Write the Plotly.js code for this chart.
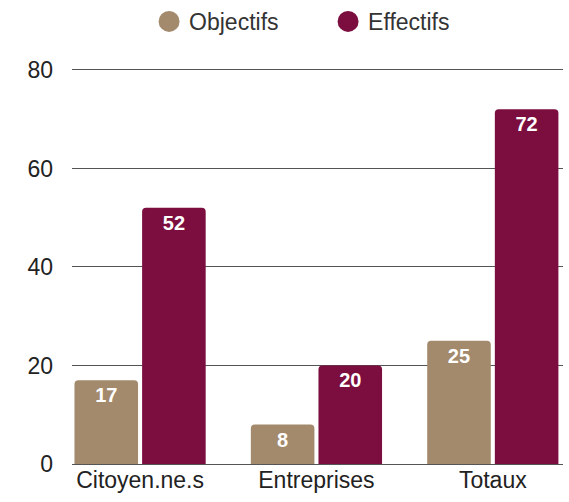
<!DOCTYPE html>
<html><head><meta charset="utf-8">
<script src="https://cdn.plot.ly/plotly-3.0.1.min.js"></script>
<style>body{margin:0;background:#fff}#chart{width:569px;height:502px}</style>
</head><body><div id="chart"></div>
<script>
const categories = ["Citoyen.ne.s", "Entreprises", "Totaux"];
const objectifs = [17, 8, 25];
const effectifs = [52, 20, 72];
const seriesNames = ["Objectifs", "Effectifs"];
const colors = ["#a38a6d", "#7b0e3e"];
const yTicks = [0, 20, 40, 60, 80];

const font = "Liberation Sans, Arial, Helvetica, sans-serif";
const mkBar = (vals, i) => ({
  type: "bar", x: categories, y: vals, name: seriesNames[i],
  marker: {color: colors[i]}, showlegend: false,
  text: vals.map(String), textposition: "inside", insidetextanchor: "end",
  textfont: {color: "#ffffff", size: 20, family: font, weight: "bold"},
  hoverinfo: "skip"
});
const mkLeg = (i) => ({
  type: "scatter", mode: "markers", x: [null], y: [null], name: seriesNames[i],
  marker: {color: colors[i], size: 23, symbol: "circle", line: {color: colors[i], width: 6}}, showlegend: true
});

const data = [mkBar(objectifs, 0), mkBar(effectifs, 1), mkLeg(0), mkLeg(1)];
const layout = {
  width: 569, height: 502,
  margin: {l: 72, r: 6, t: 67, b: 38},
  paper_bgcolor: "#fff", plot_bgcolor: "#fff",
  barmode: "group", bargap: 0.233, bargroupgap: 0.06, barcornerradius: 4,
  font: {family: font, color: "#333", size: 23},
  showlegend: true,
  legend: {orientation: "h", x: 0.262, xanchor: "left", xref: "container", y: 1.0, yanchor: "top", yref: "container",
           font: {size: 23, color: "#333"}, entrywidth: 134, itemwidth: 30},
  xaxis: {type: "category", range: [-0.386, 2.398], showgrid: false, zeroline: false,
          showline: false, ticks: "", tickfont: {size: 23, color: "#222"}, fixedrange: true},
  yaxis: {range: [0, 80.6], tickvals: yTicks, ticktext: yTicks.map(String), showgrid: true,
          gridcolor: "#555", gridwidth: 1, zeroline: true, zerolinecolor: "#555", zerolinewidth: 1,
          showline: false, ticks: "", ticklabelstandoff: 18, tickfont: {size: 23, color: "#222"}, fixedrange: true}
};
Plotly.newPlot("chart", data, layout, {displayModeBar: false, staticPlot: true});
</script></body></html>
